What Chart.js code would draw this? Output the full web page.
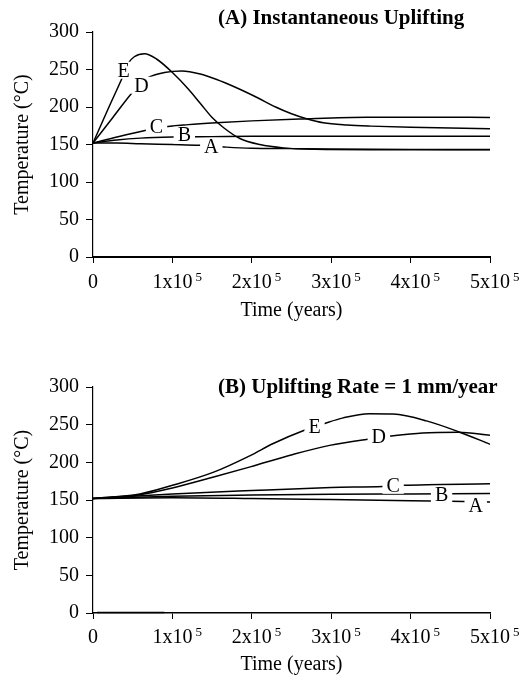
<!DOCTYPE html>
<html lang="en">
<head>
<meta charset="UTF-8">
<title>Temperature vs Time</title>
<script src="https://cdn.jsdelivr.net/npm/chart.js"></script>
<style>
  body { margin: 0; background: #fff; }
  #wrap { position: relative; width: 522px; height: 675px; }
  canvas { position: absolute; left: 0; }
  #topChart { top: 0; }
  #bottomChart { top: 330px; }
</style>
</head>
<body>
<div id="wrap">
  <canvas id="topChart" width="522" height="330"></canvas>
  <canvas id="bottomChart" width="522" height="345"></canvas>
</div>

<script>
// axis ticks (x labels are "Nx10" with a superscript power)
var xTickValues = [0, 100000, 200000, 300000, 400000, 500000];
var xTickLabels = ['0', '1x10', '2x10', '3x10', '4x10', '5x10'];
var xTickPowers = ['', '5', '5', '5', '5', '5'];
var yTickValues = [0, 50, 100, 150, 200, 250, 300];
var curveNames = ['A', 'B', 'C', 'D', 'E'];

// (A) Instantaneous uplifting -- [time (years), temperature (C)]
var topA = [[0,152],[30000,152],[60000,151],[100000,150],[134000,149],[168000,146.5],[200000,145],[250000,144.5],[300000,144],[400000,143.5],[500000,143.5]];
var topB = [[0,152],[30000,156],[60000,158.5],[100000,160],[150000,160.5],[200000,161],[350000,161],[500000,161]];
var topC = [[0,152],[30000,160],[67000,169],[90000,173.5],[120000,176.5],[155000,179],[200000,181.5],[260000,184],[345000,186.5],[420000,186.5],[500000,186]];
var topD = [[0,152],[25000,186],[50000,220],[60000,231],[71000,240],[90000,246],[112000,248],[135000,244],[155000,237],[180000,226],[206000,213],[230000,200],[250000,191],[270000,184],[290000,179],[320000,176],[350000,174.5],[400000,173],[450000,172],[500000,171]];
var topE = [[0,152],[18000,195],[36000,237],[45000,259],[52000,267],[65000,271],[80000,264],[100000,246],[120000,224],[135000,205],[150000,186],[165000,172],[185000,158],[210000,150],[240000,145.5],[280000,143.5],[350000,143],[500000,143]];
// where the curve letters sit, same order as curveNames
var topLabelAt = [[149000,147],[115000,162.5],[80000,173.5],[61000,229],[38500,249]];

// (B) Uplifting rate = 1 mm/year
var bottomA = [[0,152],[100000,153],[200000,152],[300000,150.5],[400000,149],[500000,147.5]];
var bottomB = [[0,152],[100000,155],[200000,156.5],[300000,157.5],[400000,158],[500000,158.5]];
var bottomC = [[0,152],[100000,158],[200000,162.5],[300000,166.5],[365000,168],[390000,169.5],[500000,171.5]];
var bottomD = [[0,152],[59000,157],[100000,166],[152000,180.5],[198000,194],[252000,210.5],[298000,222.5],[348000,231],[373000,234.5],[415000,239],[460000,240],[500000,236]];
var bottomE = [[0,152],[59000,158],[100000,169.5],[152000,187],[198000,209],[227000,225],[267000,243],[290000,251],[315000,259],[348000,264.5],[378000,264],[420000,255],[462000,240],[500000,224]];
var bottomTrace = [[5000,0.6],[90000,0.6]];
var bottomLabelAt = [[482000,143],[439000,157.5],[378000,169.5],[360000,233.5],[279000,247]];

var serif = '"Liberation Serif", "Times New Roman", serif';

// letters on the curves (white box breaks the line like in the print), panel title,
// and the x tick labels with their raised power
var curveLabels = {
    id: 'curveLabels',
    afterDraw: function (chart, args, opts) {
        var ctx = chart.ctx;
        var xs = chart.scales.x, ys = chart.scales.y;
        ctx.save();
        ctx.font = '20px ' + serif;
        ctx.textAlign = 'center';
        ctx.textBaseline = 'middle';
        curveNames.forEach(function (name, i) {
            var px = xs.getPixelForValue(opts.at[i][0]);
            var py = ys.getPixelForValue(opts.at[i][1]);
            var w = ctx.measureText(name).width + 8;
            ctx.fillStyle = '#fff';
            ctx.fillRect(px - w / 2, py - 8.5, w, 17);
            ctx.fillStyle = '#000';
            ctx.fillText(name, px, py + 1);
        });

        ctx.font = 'bold 21px ' + serif;
        ctx.textAlign = 'left';
        ctx.fillText(opts.title, opts.titleX, opts.titleY);

        ctx.textBaseline = 'alphabetic';
        var base = xs.top + opts.labelDrop;
        xTickValues.forEach(function (v, i) {
            var px = xs.getPixelForValue(v);
            ctx.font = '20px ' + serif;
            ctx.textAlign = 'center';
            ctx.fillText(xTickLabels[i], px, base);
            if (xTickPowers[i]) {
                var w = ctx.measureText(xTickLabels[i]).width;
                ctx.font = '13px ' + serif;
                ctx.textAlign = 'left';
                ctx.fillText(xTickPowers[i], px + w / 2 + 3, base - 7);
            }
        });
        ctx.restore();
    }
};

function toPoints(arr) {
    return arr.map(function (p) { return { x: p[0], y: p[1] }; });
}

function makeChart(id, title, series, labelAt, extra, pad, titleY, xBorder, xHeight, labelDrop) {
    var datasets = series.map(function (s) {
        return {
            data: toPoints(s),
            borderColor: '#000',
            borderWidth: 1.5,
            pointRadius: 0,
            fill: false,
            cubicInterpolationMode: 'monotone'
        };
    });
    if (extra) {
        datasets.push({ data: toPoints(extra), borderColor: '#000', borderWidth: 1.5, pointRadius: 0, clip: false });
    }
    var ctx = document.getElementById(id).getContext('2d');
    return new Chart(ctx, {
        type: 'line',
        data: { datasets: datasets },
        plugins: [curveLabels],
        options: {
            responsive: false,
            animation: false,
            devicePixelRatio: 1,
            layout: { padding: pad },
            plugins: {
                legend: { display: false },
                tooltip: { enabled: false },
                curveLabels: { at: labelAt, title: title, titleX: 218, titleY: titleY, labelDrop: labelDrop }
            },
            scales: {
                x: {
                    type: 'linear',
                    min: 0,
                    max: 500000,
                    afterBuildTicks: function (s) { s.ticks = xTickValues.map(function (v) { return { value: v }; }); },
                    afterFit: function (s) { s.height = xHeight; },
                    ticks: { display: false },
                    grid: { drawOnChartArea: false, tickLength: 6, tickColor: '#000', tickWidth: 1 },
                    border: { color: '#000', width: xBorder },
                    title: { display: true, text: 'Time (years)', color: '#000', padding: 0,
                             font: { family: serif, size: 20, lineHeight: 1 } }
                },
                y: {
                    min: 0,
                    max: 300,
                    afterBuildTicks: function (s) { s.ticks = yTickValues.map(function (v) { return { value: v }; }); },
                    afterFit: function (s) { s.width = 93; },
                    ticks: { font: { family: serif, size: 20 }, color: '#000', padding: 7 },
                    grid: { drawOnChartArea: false, tickLength: 7, tickColor: '#000', tickWidth: 1 },
                    border: { color: '#000', width: 1.2 },
                    title: { display: true, text: 'Temperature (\u00b0C)', color: '#000', padding: { top: 13, bottom: 0 },
                             font: { family: serif, size: 20, lineHeight: 1 } }
                }
            }
        }
    });
}

makeChart('topChart', '(A) Instantaneous Uplifting',
    [topA, topB, topC, topD, topE], topLabelAt, null,
    { top: 32, right: 32, bottom: 9, left: 0 }, 19, 2, 64, 31);

makeChart('bottomChart', '(B) Uplifting Rate = 1 mm/year',
    [bottomA, bottomB, bottomC, bottomD, bottomE], bottomLabelAt, bottomTrace,
    { top: 57, right: 32, bottom: 0, left: 0 }, 58, 1.5, 62, 30);
</script>
</body>
</html>
